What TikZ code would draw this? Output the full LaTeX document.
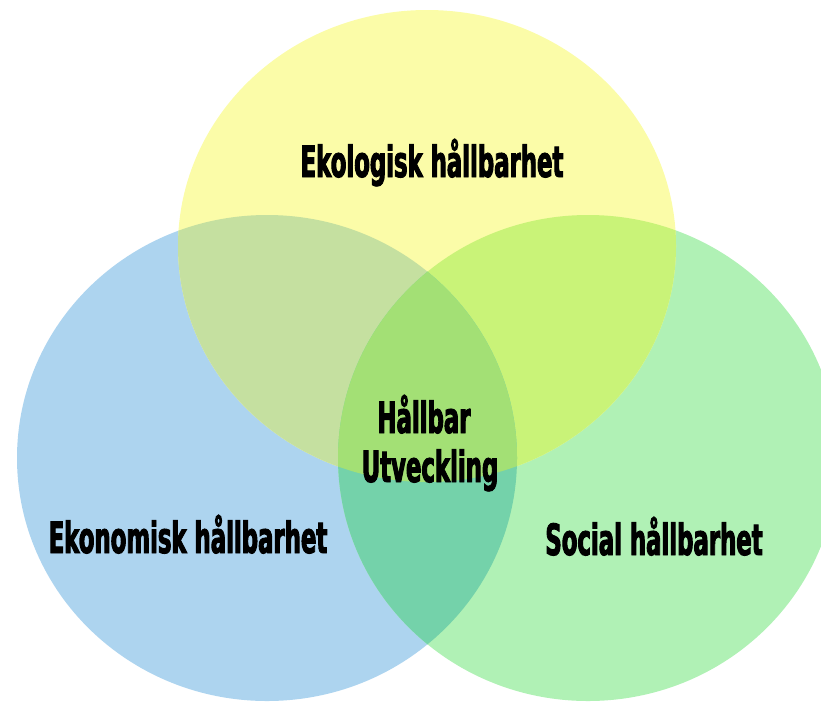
\documentclass[tikz,border=0pt]{standalone}
\usepackage{fontspec}
\newfontfamily\impfont{DejaVu Sans}[FakeStretch=0.53,FakeBold=2.2]
\definecolor{cyel}{RGB}{251,252,168}
\definecolor{cblu}{RGB}{173,212,239}
\definecolor{cgrn}{RGB}{176,241,181}
\definecolor{cyb}{RGB}{197,224,160}
\definecolor{cyg}{RGB}{201,243,120}
\definecolor{cbg}{RGB}{116,210,170}
\definecolor{cmid}{RGB}{163,224,117}
\begin{document}
\begin{tikzpicture}[x=1pt,y=-1pt,
  lbl/.style={font=\impfont\bfseries\fontsize{43}{49}\selectfont, text=black, inner sep=0pt, anchor=base}]
\useasboundingbox (0,0) rectangle (821,702);
\def\pblu{(267,458) ellipse [x radius=250, y radius=243]}
\def\pgrn{(588,458) ellipse [x radius=250, y radius=243]}
\def\pyel{(427,246) ellipse [x radius=249, y radius=236]}
\begin{scope}
\clip (0,0) rectangle (821,702);
\fill[cblu] \pblu;
\fill[cgrn] \pgrn;
\fill[cyel] \pyel;
\begin{scope}\clip \pblu; \fill[cyb] \pyel; \end{scope}
\begin{scope}\clip \pgrn; \fill[cyg] \pyel; \end{scope}
\begin{scope}\clip \pblu; \fill[cbg] \pgrn; \end{scope}
\begin{scope}\clip \pblu; \clip \pgrn; \fill[cmid] \pyel; \end{scope}
\end{scope}
\node[lbl] (eko) at (432,177) {Ekologisk hållbarhet};
\node[lbl] (hb) at (424,433) {Hållbar};
\node[lbl] (utv) at (430,482) {Utveckling};
\node[lbl] (ekon) at (188,553) {Ekonomisk hållbarhet};
\node[lbl] (soc) at (654,555) {Social hållbarhet};
\end{tikzpicture}
\end{document}
